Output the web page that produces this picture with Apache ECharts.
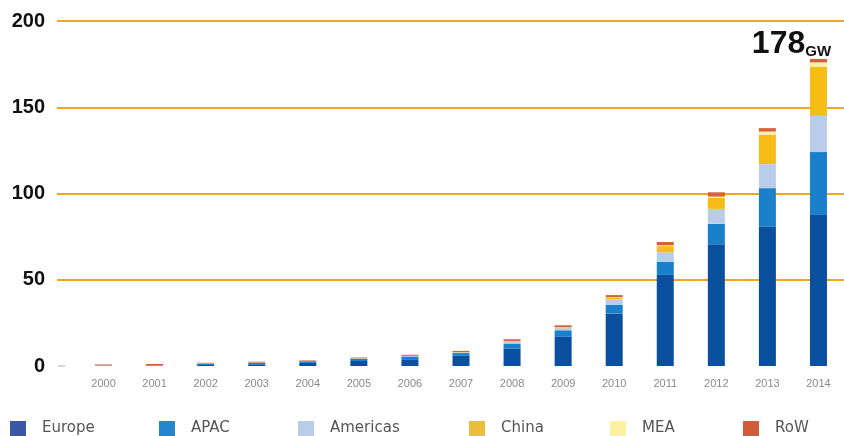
<!DOCTYPE html>
<html>
<head>
<meta charset="utf-8">
<script src="https://cdn.jsdelivr.net/npm/echarts@6/dist/echarts.min.js"></script>
<style>html,body{margin:0;padding:0;background:#fff;}#c{width:844px;height:436px;}</style>
</head>
<body>
<div id="c"></div>
<script>
const years = ['2000','2001','2002','2003','2004','2005','2006','2007','2008','2009','2010','2011','2012','2013','2014'];
const europe   = [0.15,0.25,0.6,1.0,1.8,2.9,3.9,5.9,10.2,16.9,30.5,52.8,70.6,80.8,88.0];
const apac     = [0.15,0.25,0.7,0.9,1.0,1.3,1.6,1.6,2.8,3.8,5.0,7.5,11.8,22.3,36.0];
const americas = [0.05,0.05,0.1,0.1,0.15,0.2,0.3,0.4,1.0,1.2,3.1,5.6,8.7,13.9,21.0];
const china    = [0.02,0.02,0.03,0.05,0.06,0.07,0.1,0.1,0.3,0.4,1.0,3.6,6.3,17.0,28.5];
const mea      = [0.01,0.01,0.02,0.03,0.03,0.03,0.03,0.05,0.1,0.2,0.3,0.5,0.8,1.9,2.5];
const row      = [0.5,0.6,0.4,0.4,0.3,0.4,0.6,0.7,1.1,1.1,1.2,1.9,2.5,2.0,2.0];
const yTicks = [0,50,100,150,200];
const seriesNames = ['Europe','APAC','Americas','China','MEA','RoW'];
const seriesColors = ['#0b4f9f','#1a80cb','#b9cdea','#f7bd17','#fbf1a0','#d8613a'];
const legendIconColors = ['#3a58a4','#2586cf','#b9cdea','#ebbd3b','#fbf1a0','#d05c38'];
const totalLabel = '178';
const totalUnit = 'GW';

const chart = echarts.init(document.getElementById('c'), null, {renderer:'canvas'});
const dataArr = [europe, apac, americas, china, mea, row];
const legendLefts = [10,159,298,469,610,743];

const series = seriesNames.map((n,i)=>({
  name:n, type:'bar', stack:'t', xAxisIndex:0, yAxisIndex:0,
  barWidth:17,
  itemStyle:{color:seriesColors[i]},
  data: dataArr[i].map((v,j)=>{
    if(i===5 && j===years.length-1){
      return {value:v, label:{show:true, position:'top', offset:[-27,6],
        formatter:'{a|'+totalLabel+'}{b|'+totalUnit+'}',
        rich:{a:{fontSize:32,fontWeight:'bold',color:'#111',fontFamily:'Liberation Sans'},
              b:{fontSize:15,fontWeight:'bold',color:'#111',fontFamily:'Liberation Sans',verticalAlign:'bottom',padding:[0,0,1,0]}}}};
    }
    return v;
  })
}));
series.push({type:'line', xAxisIndex:1, yAxisIndex:1, data:[], silent:true});

chart.setOption({
  backgroundColor:'#fff',
  animation:false,
  grid:[
    {left:78, top:21, width:768, bottom:70},
    {left:57, top:21, right:0, bottom:70}
  ],
  legend: seriesNames.map((n,i)=>({
    data:[{name:n, icon:'rect', itemStyle:{color:legendIconColors[i]}}],
    left:legendLefts[i], top:421, padding:0, itemWidth:16, itemHeight:15,
    textStyle:{fontFamily:'DejaVu Sans', fontSize:15, color:'#555', padding:[0,0,0,11]},
    selectedMode:false
  })),
  xAxis:[
    {type:'category', data:years, gridIndex:0,
     axisLine:{show:false}, axisTick:{show:false},
     axisLabel:{color:'#8a8a8a', fontSize:11, fontFamily:'Liberation Sans', margin:12}},
    {type:'value', gridIndex:1, show:false, min:0, max:1}
  ],
  yAxis:[
    {type:'value', gridIndex:0, min:0, max:200, interval:50, show:false},
    {type:'value', gridIndex:1, min:0, max:200, interval:50,
     axisLine:{show:false}, axisTick:{show:false},
     axisLabel:{color:'#111', fontSize:20, fontWeight:'bold', fontFamily:'Liberation Sans', margin:12,
       formatter:(v)=> yTicks.includes(v) ? String(v) : ''},
     splitLine:{show:true, lineStyle:{width:2, color:['rgba(0,0,0,0)','#f4a51f','#f4a51f','#f4a51f','#f4a51f']}}}
  ],
  graphic:[
    {type:'line', shape:{x1:58, y1:366, x2:65, y2:366}, style:{stroke:'#aaa', lineWidth:1}, silent:true}
  ],
  series: series
});
</script>
</body>
</html>
